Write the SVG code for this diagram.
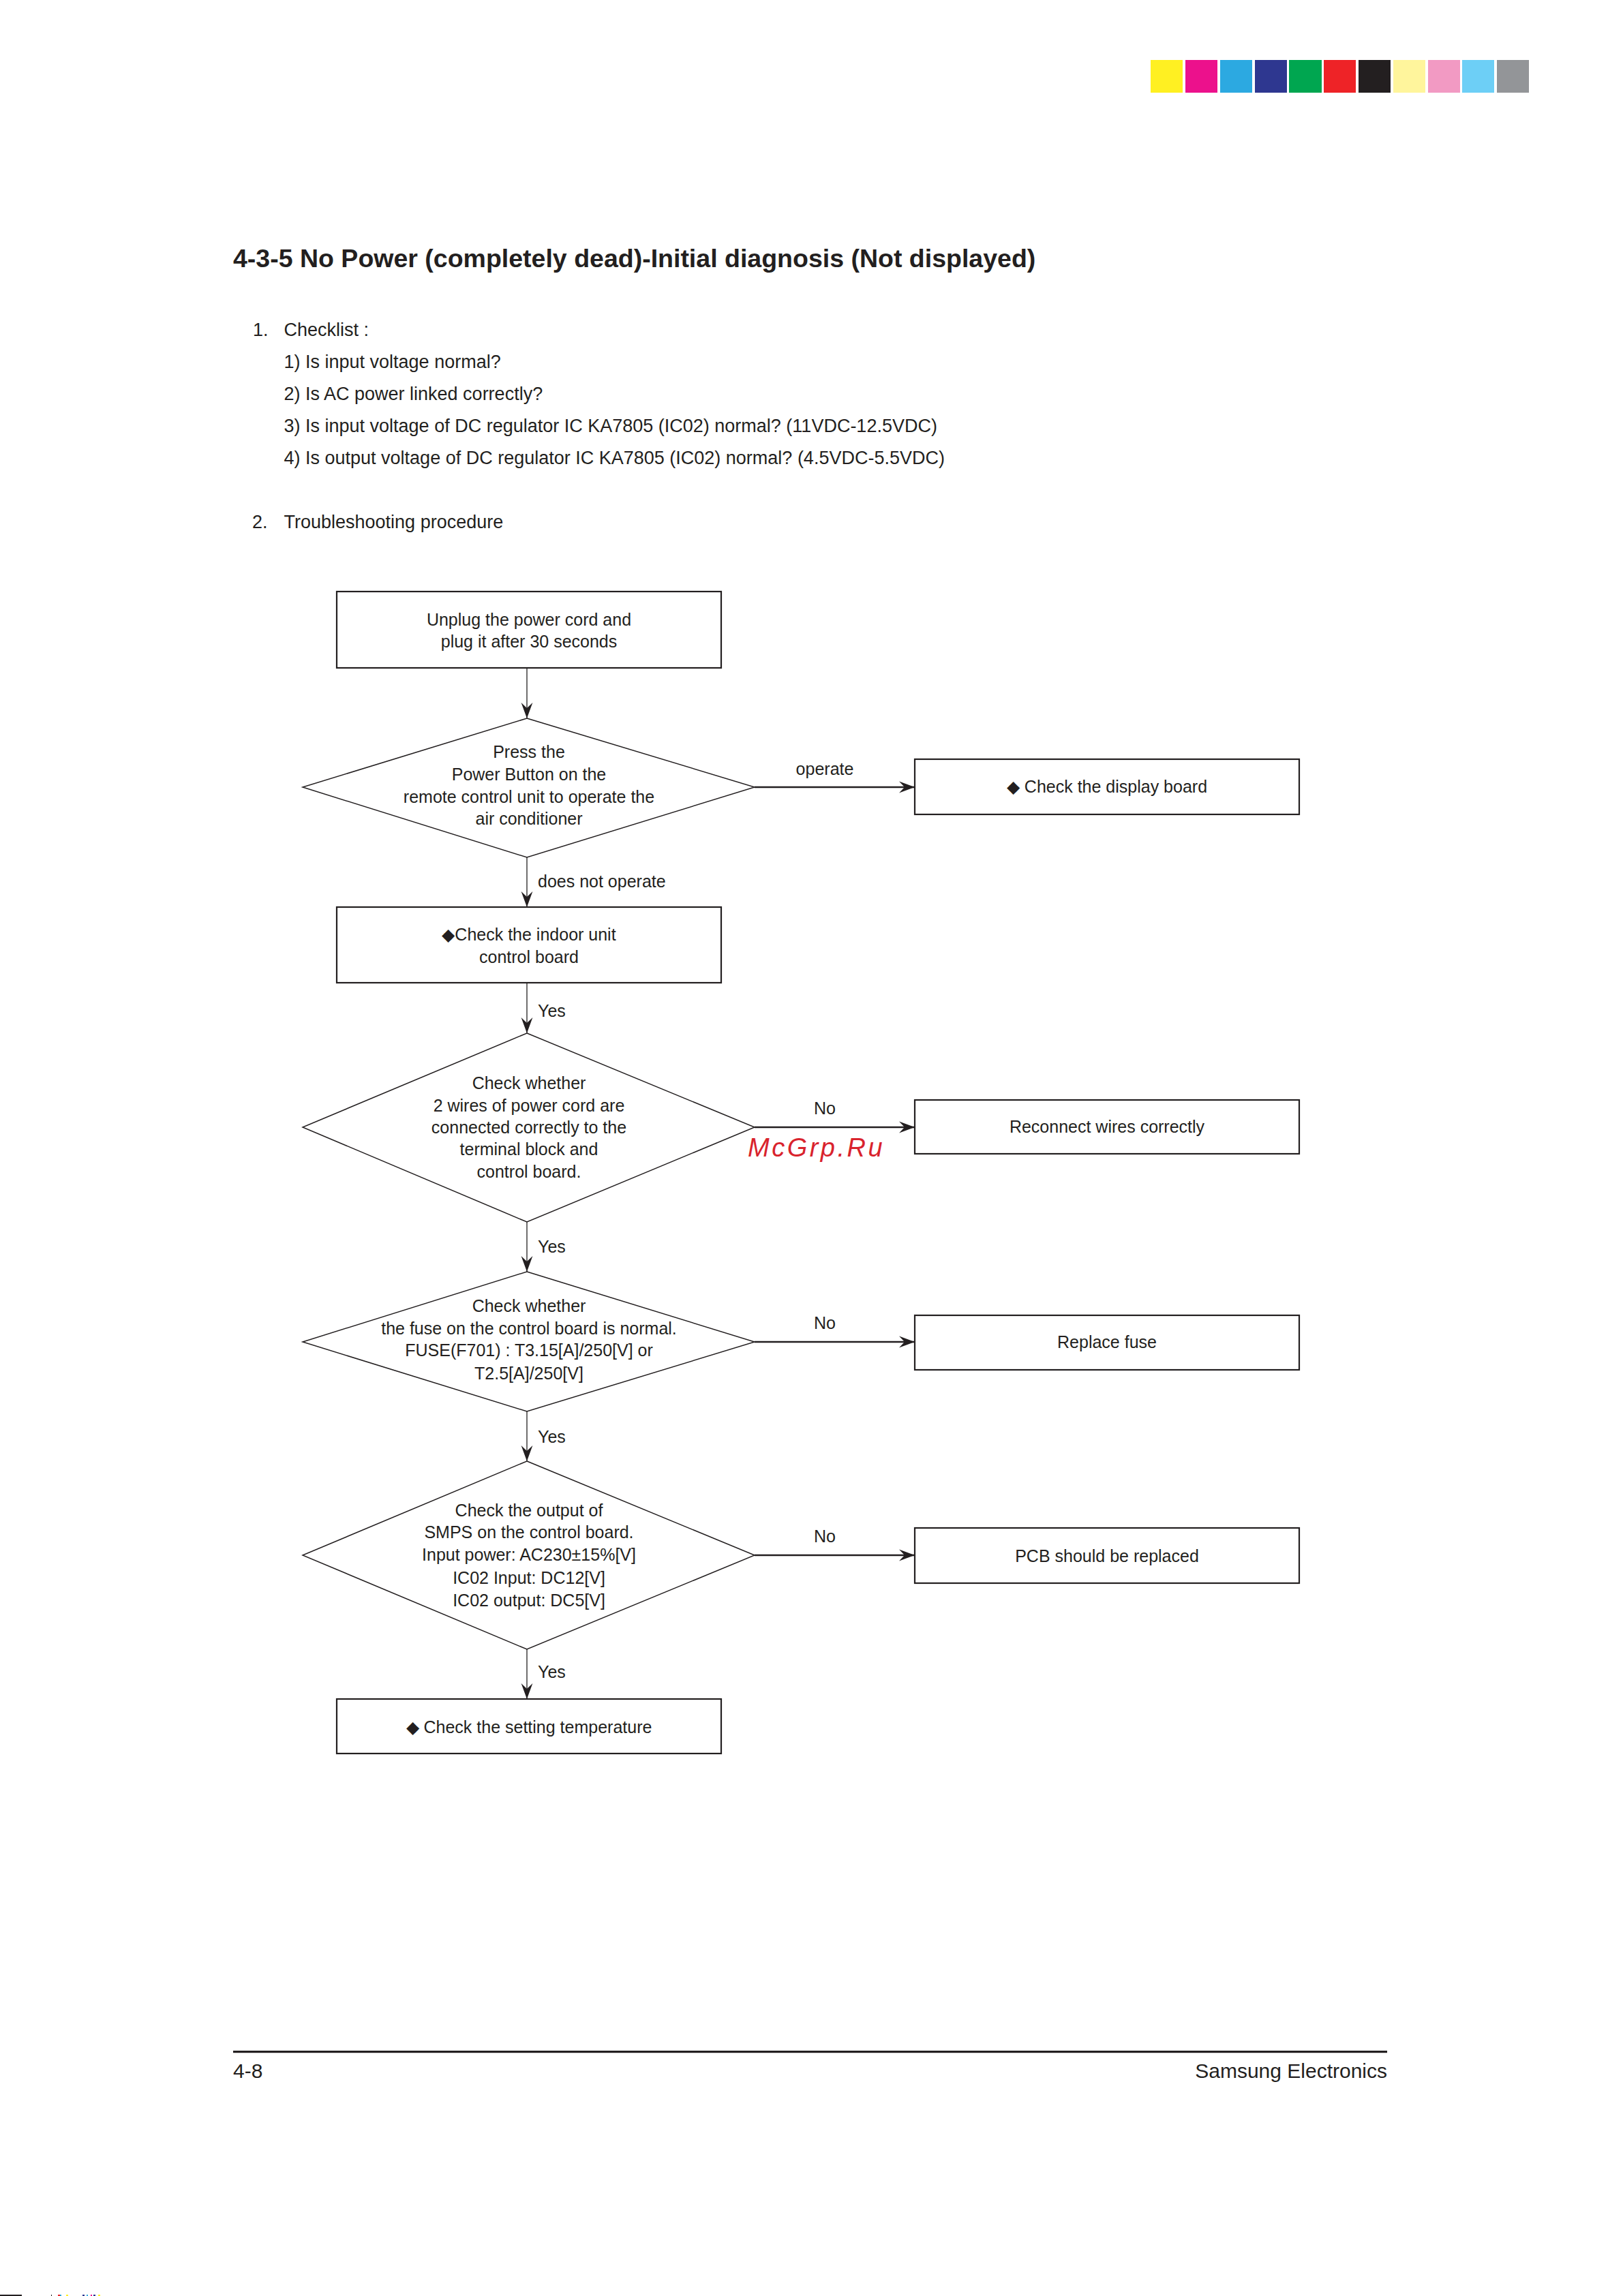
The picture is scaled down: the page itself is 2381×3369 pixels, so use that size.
<svg xmlns="http://www.w3.org/2000/svg" width="2381" height="3369" viewBox="0 0 2381 3369">
<style>
.t{font-family:"Liberation Sans",Arial,sans-serif;fill:#231F20}
.n{font-size:25px;text-anchor:middle}
.l{font-size:25px}
.c{font-size:27px}
.box{fill:#fff;stroke:#231F20;stroke-width:2.2}
.dia{fill:#fff;stroke:#231F20;stroke-width:1.5}
.v{stroke:#231F20;stroke-width:1.3;fill:none;marker-end:url(#arr)}
.h{stroke:#231F20;stroke-width:2.7;fill:none;marker-end:url(#arr)}
</style>
<defs>
<marker id="arr" markerUnits="userSpaceOnUse" viewBox="-25 -10 30 20" markerWidth="30" markerHeight="20" refX="0" refY="0" orient="auto" overflow="visible">
<path d="M0,0 L-23,-8.4 L-15,0 L-23,8.4 Z" fill="#231F20"/>
</marker>
</defs>
<rect width="2381" height="3369" fill="#fff"/>

<g id="colorbar">
<rect x="1688" y="88" width="47" height="48" fill="#FFF022"/>
<rect x="1739" y="88" width="47" height="48" fill="#EC118C"/>
<rect x="1790" y="88" width="47" height="48" fill="#2CA9E1"/>
<rect x="1841" y="88" width="47" height="48" fill="#2E3790"/>
<rect x="1891" y="88" width="48" height="48" fill="#00A650"/>
<rect x="1942" y="88" width="47" height="48" fill="#EE2327"/>
<rect x="1993" y="88" width="47" height="48" fill="#231F20"/>
<rect x="2044" y="88" width="47" height="48" fill="#FFF59C"/>
<rect x="2095" y="88" width="47" height="48" fill="#F29AC3"/>
<rect x="2145" y="88" width="47" height="48" fill="#6DCFF6"/>
<rect x="2196" y="88" width="47" height="48" fill="#939598"/>
</g>

<g id="header">
<text class="t" x="342" y="392" font-size="37.5" font-weight="bold">4-3-5 No Power (completely dead)-Initial diagnosis (Not displayed)</text>
<text class="t c" x="371" y="493">1.</text>
<text class="t c" x="416.5" y="493">Checklist :</text>
<text class="t c" x="416.5" y="540">1) Is input voltage normal?</text>
<text class="t c" x="416.5" y="587">2) Is AC power linked correctly?</text>
<text class="t c" x="416.5" y="634">3) Is input voltage of DC regulator IC KA7805 (IC02) normal? (11VDC-12.5VDC)</text>
<text class="t c" x="416.5" y="681">4) Is output voltage of DC regulator IC KA7805 (IC02) normal? (4.5VDC-5.5VDC)</text>
<text class="t c" x="370" y="775">2.</text>
<text class="t c" x="416.5" y="775">Troubleshooting procedure</text>
</g>

<g id="connectors">
<line class="v" x1="773" y1="980" x2="773" y2="1054"/>
<line class="v" x1="773" y1="1258" x2="773" y2="1331"/>
<line class="v" x1="773" y1="1442" x2="773" y2="1516"/>
<line class="v" x1="773" y1="1793" x2="773" y2="1866"/>
<line class="v" x1="773" y1="2071" x2="773" y2="2144"/>
<line class="v" x1="773" y1="2420" x2="773" y2="2493"/>
<line class="h" x1="1107" y1="1155" x2="1342" y2="1155"/>
<line class="h" x1="1107" y1="1654" x2="1342" y2="1654"/>
<line class="h" x1="1107" y1="1969" x2="1342" y2="1969"/>
<line class="h" x1="1107" y1="2282" x2="1342" y2="2282"/>
<text class="t n" x="1210" y="1137">operate</text>
<text class="t l" x="789" y="1302">does not operate</text>
<text class="t l" x="789" y="1492">Yes</text>
<text class="t n" x="1210" y="1635">No</text>
<text class="t l" x="789" y="1838">Yes</text>
<text class="t n" x="1210" y="1950">No</text>
<text class="t l" x="789" y="2117">Yes</text>
<text class="t n" x="1210" y="2263">No</text>
<text class="t l" x="789" y="2462">Yes</text>
</g>

<g id="n_unplug">
<rect class="box" x="494" y="868" width="564" height="112"/>
<text class="t n" x="776" y="918">Unplug the power cord and</text>
<text class="t n" x="776" y="950">plug it after 30 seconds</text>
</g>

<g id="n_press">
<polygon class="dia" points="773,1054 1107,1155 773,1258 444,1155"/>
<text class="t n" x="776" y="1112">Press the</text>
<text class="t n" x="776" y="1145">Power Button on the</text>
<text class="t n" x="776" y="1178">remote control unit to operate the</text>
<text class="t n" x="776" y="1210">air conditioner</text>
</g>

<g id="n_display">
<rect class="box" x="1342" y="1114" width="564" height="81"/>
<text class="t n" x="1624" y="1163">◆ Check the display board</text>
</g>

<g id="n_indoor">
<rect class="box" x="494" y="1331" width="564" height="111"/>
<text class="t n" x="776" y="1380">◆Check the indoor unit</text>
<text class="t n" x="776" y="1413">control board</text>
</g>

<g id="n_wires">
<polygon class="dia" points="773,1516 1107,1654 773,1793 444,1654"/>
<text class="t n" x="776" y="1598">Check whether</text>
<text class="t n" x="776" y="1631">2 wires of power cord are</text>
<text class="t n" x="776" y="1663">connected correctly to the</text>
<text class="t n" x="776" y="1695">terminal block and</text>
<text class="t n" x="776" y="1728">control board.</text>
</g>

<g id="n_reconnect">
<rect class="box" x="1342" y="1614" width="564" height="79"/>
<text class="t n" x="1624" y="1662">Reconnect wires correctly</text>
</g>

<g id="n_fuse">
<polygon class="dia" points="773,1866 1107,1969 773,2071 444,1969"/>
<text class="t n" x="776" y="1925">Check whether</text>
<text class="t n" x="776" y="1958">the fuse on the control board is normal.</text>
<text class="t n" x="776" y="1990">FUSE(F701) : T3.15[A]/250[V] or</text>
<text class="t n" x="776" y="2024">T2.5[A]/250[V]</text>
</g>

<g id="n_replacefuse">
<rect class="box" x="1342" y="1930" width="564" height="80"/>
<text class="t n" x="1624" y="1978">Replace fuse</text>
</g>

<g id="n_smps">
<polygon class="dia" points="773,2144 1107,2282 773,2420 444,2282"/>
<text class="t n" x="776" y="2225">Check the output of</text>
<text class="t n" x="776" y="2257">SMPS on the control board.</text>
<text class="t n" x="776" y="2290">Input power: AC230±15%[V]</text>
<text class="t n" x="776" y="2324">IC02 Input: DC12[V]</text>
<text class="t n" x="776" y="2357">IC02 output: DC5[V]</text>
</g>

<g id="n_pcb">
<rect class="box" x="1342" y="2242" width="564" height="81"/>
<text class="t n" x="1624" y="2292">PCB should be replaced</text>
</g>

<g id="n_temp">
<rect class="box" x="494" y="2493" width="564" height="80"/>
<text class="t n" x="776" y="2543">◆ Check the setting temperature</text>
</g>

<text x="1097" y="1697" font-family="Liberation Sans,Arial,sans-serif" font-style="italic" font-size="38" letter-spacing="3.5" fill="#D9232D">McGrp.Ru</text>

<g id="footer">
<rect x="342" y="3009" width="1693" height="3.2" fill="#231F20"/>
<text class="t" x="342" y="3049" font-size="30">4-8</text>
<text class="t" x="2035" y="3049" font-size="30" text-anchor="end">Samsung Electronics</text>
</g>

<g id="edgemarks">
<rect x="0" y="3367" width="32" height="2" fill="#231F20"/>
<rect x="75" y="3367" width="1" height="2" fill="#231F20"/>
<rect x="85" y="3367" width="3" height="2" fill="#EE2327"/>
<rect x="88" y="3367" width="2" height="2" fill="#2CA9E1"/>
<rect x="97" y="3367" width="3" height="2" fill="#FFF022"/>
<rect x="121" y="3367" width="3" height="2" fill="#2E3790"/>
<rect x="127" y="3367" width="2" height="2" fill="#2CA9E1"/>
<rect x="133" y="3367" width="2" height="2" fill="#EC118C"/>
<rect x="137" y="3367" width="3" height="2" fill="#2E3790"/>
<rect x="144" y="3367" width="3" height="2" fill="#FFF022"/>
</g>
</svg>
